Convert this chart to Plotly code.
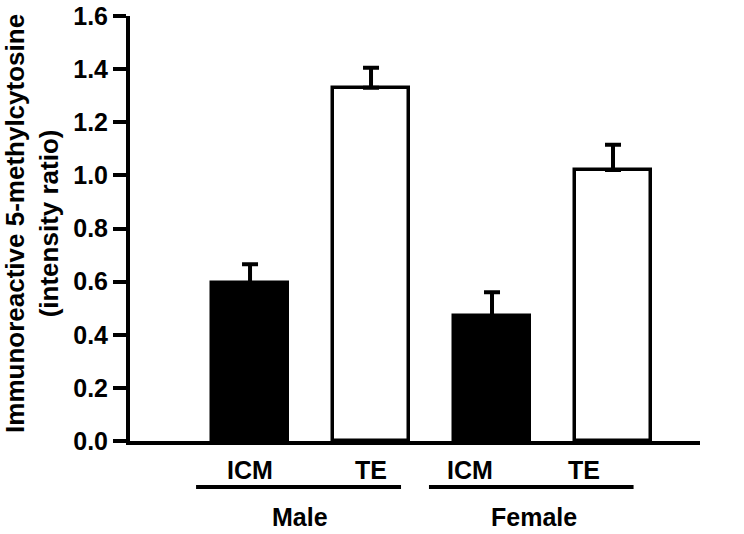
import plotly.graph_objects as go

categories = ["ICM", "TE", "ICM", "TE"]
groups = ["Male", "Female"]
values = [0.595, 1.33, 0.47, 1.02]
errors = [0.07, 0.075, 0.09, 0.095]
bar_colors = ["black", "white", "black", "white"]
y_ticks = [0.0, 0.2, 0.4, 0.6, 0.8, 1.0, 1.2, 1.4, 1.6]
y_ticklabels = ["0.0", "0.2", "0.4", "0.6", "0.8", "1.0", "1.2", "1.4", "1.6"]

FONT = "Liberation Sans, Arial, sans-serif"
xpos = list(range(len(categories)))

fig = go.Figure()
fig.add_trace(go.Bar(
    x=xpos, y=values, width=0.63,
    marker=dict(color=bar_colors, line=dict(color="black", width=3.5)),
    error_y=dict(type="data", array=errors, arrayminus=[0]*len(errors),
                 symmetric=False, color="black", thickness=4, width=8),
    showlegend=False,
))

# category labels
label_x = [0.0, 1.0, 1.82, 2.76]
for lx, c in zip(label_x, categories):
    fig.add_annotation(x=lx, y=-0.068, xref="x", yref="paper", text=c,
                       showarrow=False, xanchor="center", yanchor="middle",
                       font=dict(family=FONT, size=25, color="black", weight="bold"))

# group lines and labels
group_spans = [(-0.446, 1.248), (1.479, 3.17)]
group_label_x = [0.413, 2.347]
for (x0, x1), gx, g in zip(group_spans, group_label_x, groups):
    fig.add_shape(type="line", xref="x", yref="paper", x0=x0, x1=x1,
                  y0=-0.108, y1=-0.108, line=dict(color="black", width=4))
    fig.add_annotation(x=gx, y=-0.178, xref="x", yref="paper", text=g,
                       showarrow=False, xanchor="center", yanchor="middle",
                       font=dict(family=FONT, size=25, color="black", weight="bold"))

fig.add_annotation(x=-0.172, y=0.513, xref="paper", yref="paper",
                   text="Immunoreactive 5-methylcytosine<br>(intensity ratio)",
                   textangle=-90, showarrow=False, xanchor="center", yanchor="middle",
                   font=dict(family=FONT, size=26, color="black", weight="bold"))

fig.update_layout(
    width=744, height=534,
    margin=dict(l=130, r=44, t=16, b=93, autoexpand=False),
    plot_bgcolor="white", paper_bgcolor="white",
    bargap=0,
)
fig.update_xaxes(range=[-0.992, 3.719], showticklabels=False, ticks="",
                 showline=True, linecolor="black", linewidth=4, showgrid=False,
                 zeroline=False, automargin=False)
fig.update_yaxes(range=[0, 1.6], tickvals=y_ticks, ticktext=y_ticklabels,
                 ticks="outside", ticklen=13, tickwidth=4, tickcolor="black",
                 showline=True, linecolor="black", linewidth=4, showgrid=False,
                 zeroline=False, ticklabeloverflow="allow", automargin=False,
                 tickfont=dict(family=FONT, size=25, color="black", weight="bold"))

# remove the default 8px page margin so the figure fills the window exactly
fig.write_html("out.html", config={"displayModeBar": False},
               post_script="document.body.style.margin='0';document.body.style.overflow='hidden';")
